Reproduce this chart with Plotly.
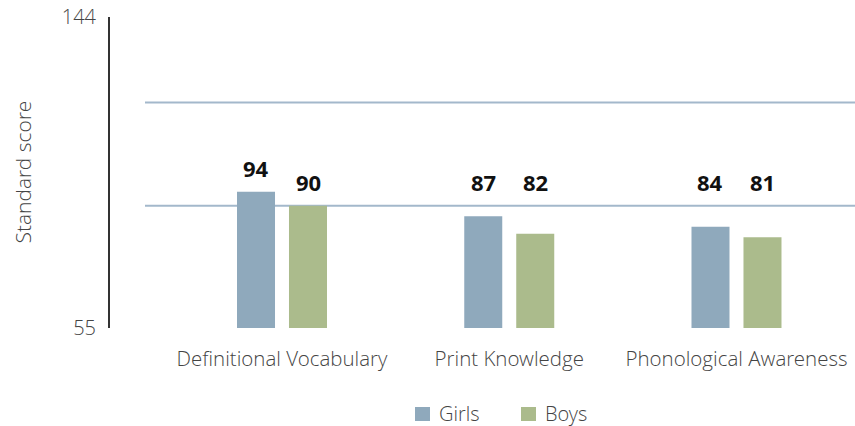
import plotly.graph_objects as go

categories = ["Definitional Vocabulary", "Print Knowledge", "Phonological Awareness"]
girls = [94, 87, 84]
boys = [90, 82, 81]
series_names = ["Girls", "Boys"]
y_range = [55, 144]
y_ticks = [55, 144]
ref_lines = [90, 119.5]
label_floor = 90

colors = {"Girls": "#8fa9bc", "Boys": "#abbb8c"}
FONT = "Open Sans Light, Open Sans, Noto Sans, sans-serif"
BOLD_FONT = "Open Sans, Noto Sans, sans-serif"

# figure geometry (page body margin removed via post_script)
W, H = 855, 426
ML, MR, MT, MB = 110, 0, 17, 98
PW, PH = W - ML - MR, H - MT - MB


def px_x(p):  # figure pixel -> paper x
    return (p - ML) / PW


def px_y(p):  # figure pixel -> paper y
    return (H - MB - p) / PH


x_pos = list(range(len(categories)))

fig = go.Figure()
for name, vals in zip(series_names, [girls, boys]):
    fig.add_trace(go.Bar(
        x=x_pos, y=[v - y_range[0] for v in vals], base=y_range[0],
        name=name, marker=dict(color=colors[name], line=dict(width=0)),
        hoverinfo="skip", showlegend=False,
    ))

# value labels
for name, vals, shift in zip(series_names, [girls, boys], [-26, 26]):
    for xi, v in zip(x_pos, vals):
        fig.add_annotation(
            x=xi, y=max(v, label_floor), xref="x", yref="y",
            text=f"<b>{v}</b>", showarrow=False,
            xshift=shift, yshift=24, yanchor="middle",
            font=dict(family=BOLD_FONT, size=22, color="#111111", weight="bold"),
        )

# reference lines
for rv in ref_lines:
    fig.add_shape(type="line", xref="paper", yref="y",
                  x0=px_x(145), x1=1, y0=rv, y1=rv,
                  line=dict(color="#a3b8cb", width=2), layer="below")

# y-axis title
fig.add_annotation(
    text="Standard score", xref="paper", yref="paper", x=0, y=0.5,
    xshift=-(ML - 22), textangle=-90, showarrow=False, xanchor="center", yanchor="middle",
    font=dict(family=FONT, size=21, color="#444444"),
)

# legend (drawn manually for swatch size / spacing)
legend_items = [(series_names[0], 415), (series_names[1], 521)]
for name, sx in legend_items:
    fig.add_shape(type="rect", xref="paper", yref="paper",
                  x0=px_x(sx), x1=px_x(sx + 15), y0=px_y(407), y1=px_y(421),
                  fillcolor=colors[name], line=dict(width=0))
    fig.add_annotation(text=name, xref="paper", yref="paper",
                       x=px_x(sx + 22), y=px_y(414), xanchor="left", yanchor="middle",
                       showarrow=False,
                       font=dict(family=FONT, size=20, color="#444444"))

fig.update_layout(
    width=W, height=H,
    margin=dict(l=ML, r=MR, t=MT, b=MB, autoexpand=False),
    paper_bgcolor="white", plot_bgcolor="white",
    barmode="group", bargap=0.5424, bargroupgap=0.269,
    showlegend=False,
    xaxis=dict(
        range=[-0.7569, 2.5215], tickvals=x_pos, ticktext=categories,
        showline=False, showgrid=False, zeroline=False,
        ticks="outside", ticklen=12, tickcolor="rgba(0,0,0,0)",
        ticklabeloverflow="allow",
        tickfont=dict(family=FONT, size=20.5, color="#444444"),
    ),
    yaxis=dict(
        range=y_range, tickvals=y_ticks, ticktext=[str(t) for t in y_ticks],
        showline=True, linecolor="#333333", linewidth=2,
        showgrid=False, zeroline=False,
        ticks="outside", ticklen=8, tickcolor="rgba(0,0,0,0)",
        ticklabeloverflow="allow",
        tickfont=dict(family=FONT, size=20, color="#444444"),
    ),
)

fig.write_html("out.html", config={"displayModeBar": False},
               post_script="document.body.style.margin='0px';")
